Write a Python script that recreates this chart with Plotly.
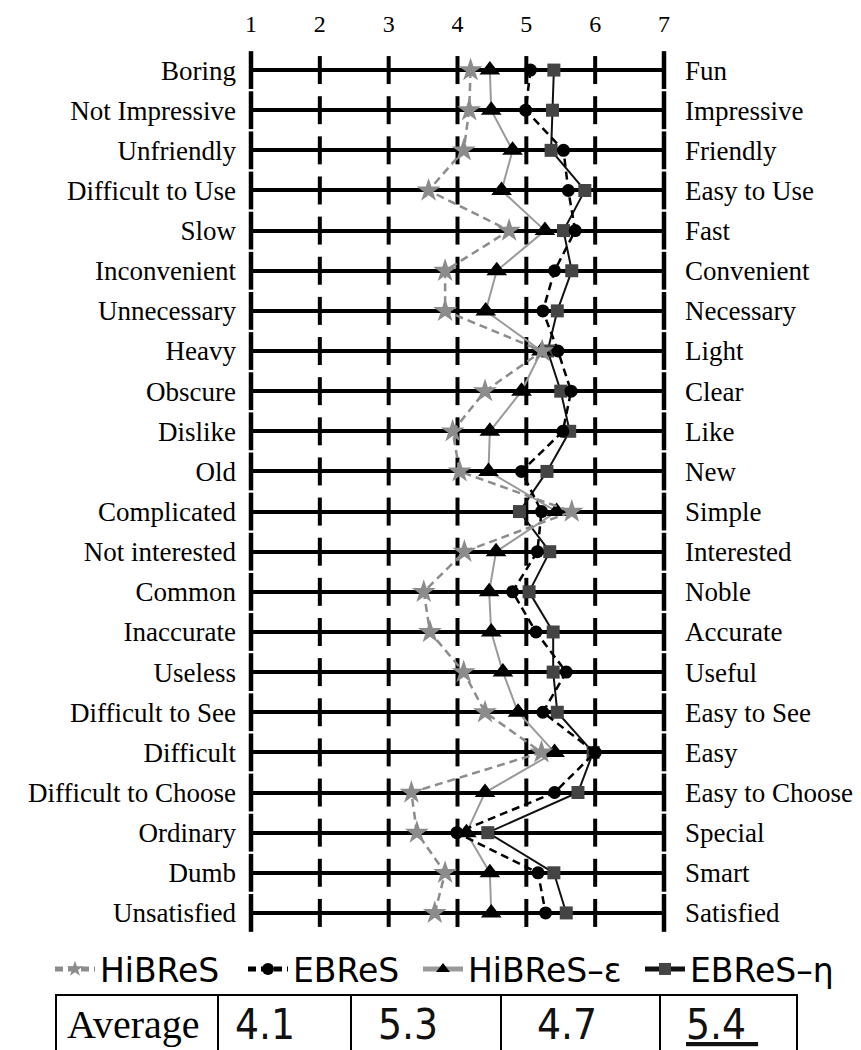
import plotly.graph_objects as go

# ---------------- data ----------------
left_labels = ["Boring", "Not Impressive", "Unfriendly", "Difficult to Use", "Slow",
               "Inconvenient", "Unnecessary", "Heavy", "Obscure", "Dislike", "Old",
               "Complicated", "Not interested", "Common", "Inaccurate", "Useless",
               "Difficult to See", "Difficult", "Difficult to Choose", "Ordinary",
               "Dumb", "Unsatisfied"]
right_labels = ["Fun", "Impressive", "Friendly", "Easy to Use", "Fast", "Convenient",
                "Necessary", "Light", "Clear", "Like", "New", "Simple", "Interested",
                "Noble", "Accurate", "Useful", "Easy to See", "Easy", "Easy to Choose",
                "Special", "Smart", "Satisfied"]
scale_vals = [1, 2, 3, 4, 5, 6, 7]
scale_labels = ["1", "2", "3", "4", "5", "6", "7"]

hibres = [4.19, 4.17, 4.09, 3.58, 4.75, 3.82, 3.82, 5.23, 4.40, 3.93, 4.03,
          5.66, 4.10, 3.51, 3.60, 4.09, 4.40, 5.22, 3.33, 3.41, 3.82, 3.67]
ebres = [5.06, 4.99, 5.54, 5.61, 5.71, 5.41, 5.24, 5.46, 5.65, 5.53, 4.93,
         5.22, 5.16, 4.80, 5.14, 5.58, 5.24, 6.00, 5.41, 3.99, 5.17, 5.28]
hibres_e = [4.47, 4.49, 4.80, 4.64, 5.27, 4.57, 4.41, 5.22, 4.93, 4.47, 4.45,
            5.44, 4.56, 4.46, 4.49, 4.66, 4.88, 5.41, 4.40, 4.13, 4.47, 4.49]
ebres_h = [5.40, 5.38, 5.36, 5.85, 5.54, 5.66, 5.45, 5.31, 5.50, 5.63, 5.30,
           4.90, 5.34, 5.04, 5.39, 5.39, 5.45, 5.97, 5.75, 4.44, 5.40, 5.58]

series_names = ["HiBReS", "EBReS", "HiBReS\u2013\u03b5", "EBReS\u2013\u03b7"]
table_header = "Average"
averages = ["4.1", "5.3", "4.7", "5.4"]

# ---------------- layout geometry (pixels) ----------------
W, H = 861, 1050
L, R, T, B = 251, 664, 50, 933
n = len(left_labels)
rows = list(range(n))


def px2x(px):
    return px / W


def py2y(py):
    return (B - py) / (B - T)


fig = go.Figure()

# scale ticks on each row line
tx_in, ty_in, tx_end, ty_end = [], [], [], []
for r in rows:
    for v in scale_vals:
        if v in (scale_vals[0], scale_vals[-1]):
            tx_end.append(v); ty_end.append(r)
        else:
            tx_in.append(v); ty_in.append(r)
fig.add_trace(go.Scatter(x=tx_in, y=ty_in, mode="markers", showlegend=False,
                         hoverinfo="skip", cliponaxis=False,
                         marker=dict(symbol="line-ns", size=20,
                                     line=dict(width=4, color="black"))))
fig.add_trace(go.Scatter(x=tx_end, y=ty_end, mode="markers", showlegend=False,
                         hoverinfo="skip", cliponaxis=False,
                         marker=dict(symbol="line-ns", size=27,
                                     line=dict(width=4.5, color="black"))))

# series (drawn bottom-to-top), legend reversed to match reference order
fig.add_trace(go.Scatter(x=ebres_h, y=rows, name=series_names[3], mode="lines+markers",
                         cliponaxis=False, legendwidth=150,
                         line=dict(color="#111111", width=2),
                         marker=dict(symbol="square", size=13, color="#444444")))
fig.add_trace(go.Scatter(x=hibres_e, y=rows, name=series_names[2], mode="lines+markers",
                         cliponaxis=False, legendwidth=167,
                         line=dict(color="#9a9a9a", width=2),
                         marker=dict(symbol="triangle-up", size=18, color="#000000")))
fig.add_trace(go.Scatter(x=ebres, y=rows, name=series_names[1], mode="lines+markers",
                         cliponaxis=False, legendwidth=120,
                         line=dict(color="#000000", width=2.5, dash="8px,5px"),
                         marker=dict(symbol="circle", size=13, color="#000000")))
fig.add_trace(go.Scatter(x=hibres, y=rows, name=series_names[0], mode="lines+markers",
                         cliponaxis=False, legendwidth=138,
                         line=dict(color="#8c8c8c", width=2.5, dash="8px,5px"),
                         marker=dict(symbol="star", size=18, color="#8c8c8c")))

# invisible trace for the right-hand axis
fig.add_trace(go.Scatter(x=[scale_vals[0]] * n, y=rows, yaxis="y2", mode="markers",
                         marker=dict(opacity=0), showlegend=False, hoverinfo="skip"))

serif = "Liberation Serif, Times New Roman, serif"
label_font = dict(family=serif, size=27, color="black")

fig.update_layout(
    width=W, height=H,
    margin=dict(l=0, r=0, t=T, b=H - B, autoexpand=False),
    plot_bgcolor="white", paper_bgcolor="white",
    xaxis=dict(domain=[L / W, R / W], range=[scale_vals[0], scale_vals[-1]], side="top",
               tickvals=scale_vals, ticktext=scale_labels,
               showgrid=False, zeroline=False, showline=False, ticks="",
               tickfont=dict(family=serif, size=24, color="black"),
               ticklabelstandoff=12),
    yaxis=dict(range=[n - 0.5, -0.5], tickvals=rows, ticktext=left_labels,
               showgrid=True, gridcolor="black", gridwidth=4,
               zeroline=False, showline=False, ticks="",
               tickfont=label_font, ticklabelstandoff=14),
    yaxis2=dict(overlaying="y", side="right", anchor="x", range=[n - 0.5, -0.5],
                tickvals=rows, ticktext=right_labels,
                showgrid=False, zeroline=False, showline=False, ticks="",
                tickfont=label_font, ticklabelstandoff=20),
    legend=dict(orientation="h", traceorder="reversed",
                x=px2x(50), xanchor="left", y=py2y(941), yanchor="top",
                font=dict(family="DejaVu Sans", size=33, color="black"),
                itemwidth=40, itemsizing="constant", bgcolor="rgba(0,0,0,0)",
                borderwidth=0),
    showlegend=True,
)

# ---------------- averages table ----------------
col_edges = [56, 218, 351, 501, 660, 797]
tab_top, tab_bot = 995, 1065
shapes = []
shapes.append(dict(type="rect", xref="paper", yref="paper",
                   x0=px2x(col_edges[0]), x1=px2x(col_edges[-1]),
                   y0=py2y(tab_bot), y1=py2y(tab_top),
                   line=dict(color="black", width=2)))
for e in col_edges[1:-1]:
    shapes.append(dict(type="line", xref="paper", yref="paper",
                       x0=px2x(e), x1=px2x(e), y0=py2y(tab_bot), y1=py2y(tab_top),
                       line=dict(color="black", width=2)))
fig.update_layout(shapes=shapes)

text_centers = [133, 265, 408, 567, 722]
cell_texts = [table_header] + averages
annots = []
for i, (cx, t) in enumerate(zip(text_centers, cell_texts)):
    if i == 0:
        f = dict(family=serif, size=40, color="black")
    else:
        f = dict(family="DejaVu Sans Condensed, DejaVu Sans", size=42, color="#111111")
    if i == len(cell_texts) - 1:
        t = "<u>" + t + "\u00a0</u>"
    annots.append(dict(xref="paper", yref="paper", x=px2x(cx), y=py2y(1024),
                       xanchor="center", yanchor="middle", text=t, showarrow=False,
                       font=f))
fig.update_layout(annotations=annots)

fig.write_html("out.html", config={"displayModeBar": False},
               post_script="document.body.style.margin='0px';")
